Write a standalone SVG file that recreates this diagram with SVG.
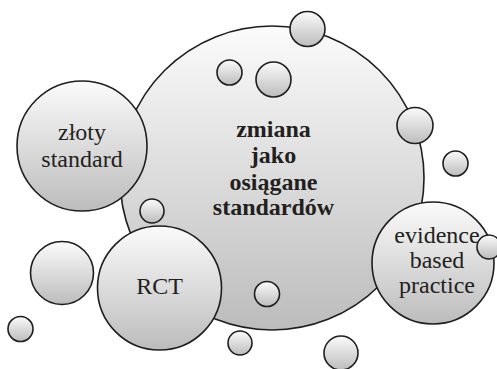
<svg xmlns="http://www.w3.org/2000/svg" width="497" height="369" viewBox="0 0 497 369">
<defs>
<linearGradient id="g" x1="0" y1="0" x2="0" y2="1">
<stop offset="0" stop-color="#fbfbfb"/>
<stop offset="1" stop-color="#bcbcbd"/>
</linearGradient>
<style>
circle{fill:url(#g);stroke:#1e1e1e;stroke-width:1.6}
text{font-family:"Liberation Serif","Times New Roman",serif;fill:#231f20;text-anchor:middle;font-size:24px}
.b{font-weight:bold}
</style>
</defs>
<rect width="497" height="369" fill="#fff"/>
<g id="main"><circle cx="272" cy="178" r="152"/>
<text class="b" x="273.5" y="137">zmiana</text>
<text class="b" x="273.5" y="163">jako</text>
<text class="b" x="273.5" y="190">osiągane</text>
<text class="b" x="273.5" y="215">standardów</text></g>
<g id="zloty"><circle cx="82" cy="146" r="65"/>
<text x="82" y="140">złoty</text>
<text x="82" y="167">standard</text></g>
<g id="rct"><circle cx="159.5" cy="288" r="62"/>
<text x="159.5" y="294">RCT</text></g>
<g id="ebp"><circle cx="433" cy="263" r="61"/>
<text x="437" y="243">evidence</text>
<text x="437" y="268">based</text>
<text x="437" y="293">practice</text></g>
<g id="bubbles">
<circle cx="62" cy="273" r="31.5"/>
<circle cx="20.5" cy="329" r="12.5"/>
<circle cx="152" cy="211" r="12"/>
<circle cx="240" cy="343" r="12"/>
<circle cx="267" cy="294" r="12.5"/>
<circle cx="341" cy="353" r="17"/>
<circle cx="489" cy="247" r="12"/>
<circle cx="307.5" cy="29" r="17.5"/>
<circle cx="273.5" cy="79.5" r="17.5"/>
<circle cx="415" cy="125.5" r="18"/>
<circle cx="455.5" cy="163.5" r="12.5"/>
<circle cx="229.5" cy="72.5" r="12.5"/>
</g>
<g id="connectors"/>
</svg>
